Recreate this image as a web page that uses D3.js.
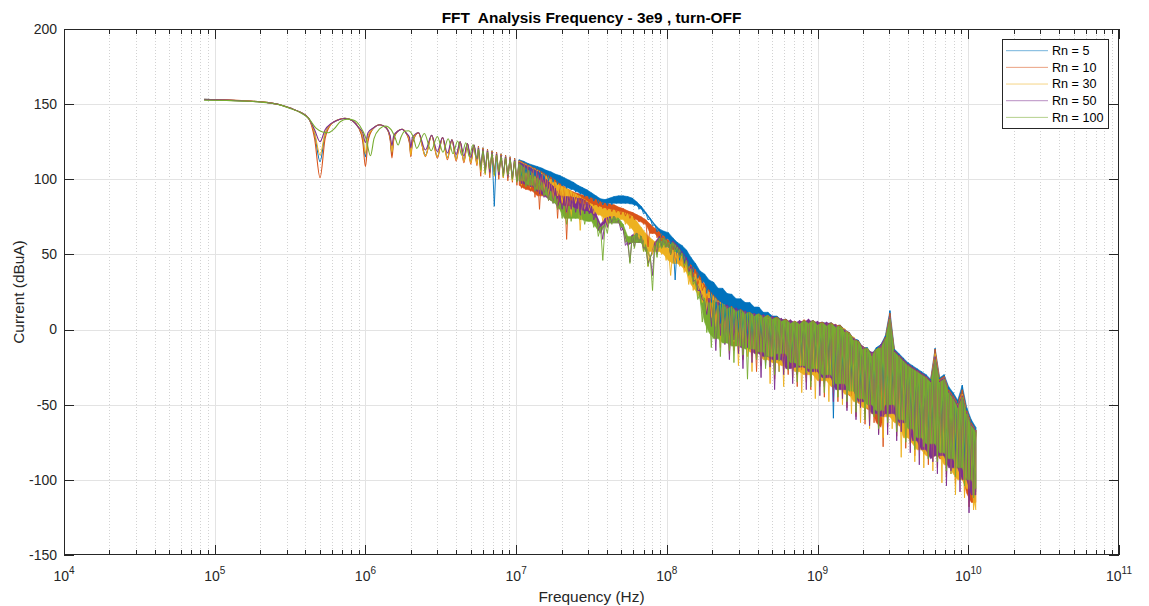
<!DOCTYPE html>
<html><head><meta charset="utf-8">
<script src="https://cdn.jsdelivr.net/npm/d3@7"></script>
<style>body{margin:0;background:#fff}svg{display:block;font-family:"Liberation Sans",Arial,Helvetica,sans-serif}</style>
</head><body><svg id="chart" width="1149" height="606"></svg>
<script>
const chartTitle = "FFT  Analysis Frequency - 3e9 , turn-OFF";
const xLabel = "Frequency (Hz)";
const yLabel = "Current (dBuA)";
const seriesNames = ["Rn = 5","Rn = 10","Rn = 30","Rn = 50","Rn = 100"];
const seriesColors = ["#0072BD","#D95319","#EDB120","#7E2F8E","#77AC30"];
const yTicks = [-150,-100,-50,0,50,100,150,200];
const xTickExps = [4,5,6,7,8,9,10,11];

// Low-frequency part: [frequency Hz, current dBuA]
const rn5Low = [[8.5e4,153.2],[1.2e5,152.8],[1.6e5,152.2],[2.2e5,151.2],[2.7e5,149.6],[3.2e5,147.2],[3.7e5,144.6],[4.2e5,140.5],[4.6e5,130],[5e5,111.7],[5.4e5,130],[5.9e5,136.5],[6.5e5,139.3],[7.3e5,140.6],[8.2e5,139],[9e5,134.5],[9.6e5,127],[1e6,115],[1.04e6,127],[1.12e6,133.5],[1.25e6,136.3],[1.38e6,134],[1.46e6,127],[1.5e6,116.5],[1.54e6,127],[1.64e6,132],[1.75e6,133.3],[1.87e6,130.5],[1.96e6,125],[2e6,117],[2.05e6,125],[2.25e6,131],[2.5e6,116],[2.75e6,129.3],[3e6,115],[3.25e6,127.8],[3.5e6,114.5],[3.75e6,126.3],[4e6,113.5],[4.25e6,125],[4.5e6,112.5],[4.75e6,123.8],[5e6,111.5],[5.25e6,122.7],[5.5e6,110.5]];
const rn10Low = [[8.5e4,153.3],[1.2e5,152.9],[1.6e5,152.3],[2.2e5,151.2],[2.7e5,149.6],[3.2e5,147.2],[3.7e5,144.6],[4.2e5,140.5],[4.6e5,127],[5e5,101],[5.4e5,127],[5.9e5,136.5],[6.5e5,139.3],[7.3e5,140.6],[8.2e5,139],[9e5,134.5],[9.6e5,125],[1e6,108.4],[1.04e6,125],[1.12e6,133.5],[1.25e6,136.3],[1.38e6,134],[1.46e6,126],[1.5e6,114.2],[1.54e6,126],[1.64e6,132],[1.75e6,133.3],[1.87e6,130.5],[1.96e6,124],[2e6,115],[2.05e6,124],[2.25e6,131],[2.5e6,115],[2.75e6,129.3],[3e6,114],[3.25e6,127.8],[3.5e6,113],[3.75e6,126.3],[4e6,112],[4.25e6,125],[4.5e6,111],[4.75e6,123.8],[5e6,110],[5.25e6,122.7],[5.5e6,109]];
const rn30Low = [[8.5e4,153.1],[1.2e5,152.8],[1.6e5,152.2],[2.2e5,151.2],[2.7e5,149.6],[3.2e5,147.2],[3.7e5,144.6],[4.2e5,140.5],[4.6e5,131],[5e5,116.2],[5.4e5,131],[5.9e5,136.5],[6.5e5,139.3],[7.3e5,140.6],[8.2e5,139],[9e5,134.5],[9.6e5,129],[1e6,117.3],[1.04e6,129],[1.12e6,133.5],[1.25e6,136.3],[1.38e6,134],[1.46e6,128],[1.5e6,118],[1.54e6,128],[1.64e6,132],[1.75e6,133.3],[1.87e6,130.5],[1.96e6,126],[2e6,116],[2.05e6,126],[2.25e6,131],[2.5e6,115.5],[2.75e6,129.3],[3e6,115],[3.25e6,127.8],[3.5e6,114],[3.75e6,126.3],[4e6,113],[4.25e6,125],[4.5e6,112],[4.75e6,123.8],[5e6,111],[5.25e6,122.7],[5.5e6,110]];
const rn50Low = [[8.5e4,153],[1.2e5,152.7],[1.6e5,152.1],[2.2e5,151.1],[2.7e5,149.6],[3.2e5,147.2],[3.7e5,144.6],[4.2e5,140.5],[4.6e5,133],[5e5,125],[5.4e5,133],[5.9e5,137],[6.5e5,139.3],[7.3e5,140.4],[8.2e5,139],[9e5,134.5],[9.6e5,131],[1e6,124.5],[1.04e6,131],[1.12e6,134],[1.25e6,136.3],[1.38e6,134],[1.46e6,129],[1.5e6,122.5],[1.54e6,129],[1.64e6,132],[1.75e6,133.3],[1.87e6,130.5],[1.96e6,128],[2e6,121],[2.05e6,128],[2.25e6,131],[2.5e6,119.5],[2.75e6,129.3],[3e6,118.5],[3.25e6,127.8],[3.5e6,117.5],[3.75e6,126.3],[4e6,116.5],[4.25e6,125],[4.5e6,115.5],[4.75e6,123.8],[5e6,114.5],[5.25e6,122.7],[5.5e6,113.5]];
const rn100Low = [[8.5e4,152.7],[1.2e5,152.4],[1.6e5,152],[2.2e5,151],[2.7e5,149.5],[3.2e5,147],[3.7e5,144.4],[4.2e5,140.5],[4.7e5,134],[5.2e5,131.5],[5.7e5,131],[6.2e5,133.5],[6.8e5,138.3],[7.6e5,140],[8.4e5,139.3],[9.2e5,135.5],[1.01e6,127],[1.08e6,115.7],[1.14e6,127],[1.24e6,133.5],[1.36e6,135.5],[1.48e6,133],[1.57e6,128],[1.65e6,122.8],[1.72e6,128],[1.82e6,132],[1.93e6,132.3],[2.08e6,128],[2.19e6,120.6],[2.46e6,130.5],[2.73e6,119],[3e6,128.5],[3.27e6,118],[3.54e6,127],[3.81e6,117],[4.09e6,125.5],[4.36e6,116],[4.63e6,124.3],[4.9e6,115],[5.17e6,123],[5.45e6,114]];

// High-frequency part: sample bins (log10 Hz) with upper / lower excursion of each series (dBuA)
const gridLog10Hz = [6.75,6.78,6.81,6.84,6.87,6.90,6.93,6.96,6.99,7.02,7.05,7.08,7.11,7.14,7.17,7.20,7.23,7.26,7.29,7.32,7.35,7.38,7.41,7.44,7.47,7.50,7.53,7.56,7.59,7.62,7.65,7.68,7.71,7.74,7.77,7.80,7.83,7.86,7.89,7.92,7.95,7.98,8.01,8.04,8.07,8.10,8.13,8.16,8.19,8.22,8.25,8.28,8.31,8.34,8.37,8.40,8.43,8.46,8.49,8.52,8.55,8.58,8.61,8.64,8.67,8.70,8.73,8.76,8.79,8.82,8.85,8.88,8.91,8.94,8.97,9.00,9.03,9.06,9.09,9.12,9.15,9.18,9.21,9.24,9.27,9.30,9.33,9.36,9.39,9.42,9.45,9.48,9.51,9.54,9.57,9.60,9.63,9.66,9.69,9.72,9.75,9.78,9.81,9.84,9.87,9.90,9.93,9.96,9.99,10.02,10.05];

const rn5Hi = [122,121,120,119,118,117,116,115,114,113,
112,110.5,109.5,108.5,107.5,106,105,103.5,102.5,101,
99.5,98,96,94.5,93,91,89,87,86.5,87.5,
88.5,89,89,88.5,87.5,85,82,78,74,70,
67,65.5,64.5,61,58,56,53,48,44,39,
37,33,31.5,27.5,27.5,24,23.5,20.5,20.5,18,
18,15,15,11.5,11.5,9,9,6.5,7,4.5,
5,3.5,5.5,4.5,6,4,5,4,4.5,2.5,
3,0,-2,-6,-7,-12,-12,-16.5,-12,-10,
-4,12.6,-13,-16,-19,-22,-24,-26,-28,-30,
-33,-12.5,-32,-30,-38,-42,-47,-37,-52,-60,-65];
const rn5Lo = [107,106,104,82,103,102,101,100,99,100,
104,103,102,101,100,99,98,96.5,95.5,94,
93,91.5,90,88.5,87,85.5,84,83,82.5,83,
84,84,84,83.5,82.5,80,77,73,69,65,
62,60,57,33,46,44,42,38,34,31,
24,18,10,4,0,-4,-8,-2,-12,-6,
-14,-20,-10,-24,-16,-20,-28,-18,-24,-20,
-30,-22,-26,-34,-24,-30,-38,-28,-59,-36,
-32,-44,-38,-50,-42,-56,-46,-52,-60,-50,
-56,-46,-64,-58,-70,-62,-74,-68,-82,-76,
-72,-86,-80,-90,-96,-86,-100,-92,-104,-114,-108];

const rn10Hi = [122,121,120,119,118,117,116,115,114,112.5,
111,109.5,108,106.5,105,103,101.5,99.5,97,95,
93,91.6,90.5,89.5,88.5,87.6,86.5,85,84,83.5,
83,81.5,80.5,79,78,76.5,75,73,70,67.5,
65,62,59.5,56,51,48,46,43,40,35,
30,26,23,19.5,17,14,15.5,12,13.5,11,
11.5,9,10.5,8,9.5,7,8.5,6,7,4.5,
5.5,4,6.5,4.5,6,4,5,3.5,4.5,2.5,
3,-0.5,-2,-6.5,-7.5,-12,-12.5,-16.5,-13,-11,
-5,11,-14,-17,-20,-23,-25,-27,-29,-31,
-34,-13,-33,-31,-40,-44,-49,-40,-54,-62,-67];
const rn10Lo = [102,104,101,103,100,101,99,98,96,94,
93,92,88,80,89,86,85,74,83,60,
86,85,84,83.5,83,82.5,81.5,80.5,79.5,78.5,
78,76.5,75.5,74,73,71.5,70,55,64,61,
59,55,50,45,43,41,39,35,30,26,
18,10,4,-5,-2,-8,-14,-6,-20,-12,
-18,-28,-14,-22,-19,-33,-24,-18,-30,-25,
-38,-27,-32,-40,-29,-36,-45,-33,-40,-48,
-39,-52,-44,-58,-49,-63,-53,-62,-69,-78,
-65,-53,-71,-64,-79,-70,-84,-76,-83,-90,
-80,-92,-86,-98,-90,-103,-97,-109,-118,-115,-129];

const rn30Hi = [121.5,120.5,119.5,118.5,117.5,116.5,115.5,114.5,113.5,112,
110.5,109,107.5,106,104,102,100,98,96,94.5,
93,91,89.5,87.5,85.5,83.5,82.5,81.5,80.5,80,
79.5,78.5,78,77,75.5,72,68,64,61,58.5,
57.5,56,54,53,51,49,45,41,37,33,
28,25,22,19,17,15.5,13.5,13,11,12,
9.5,10.5,8.5,9.5,7.5,8.5,6,7,4.5,5.5,
3.5,5.5,4.5,6,4,5,3,4.5,2.5,3.5,
1,0.5,-4,-5,-10,-11,-15,-15.5,-15,-10.5,
-6,8,-14.5,-17.5,-20.5,-23.5,-25.5,-27.5,-29.5,-31.5,
-34.5,-16,-34,-32,-41,-45,-50,-43,-55,-63,-67];
const rn30Lo = [105,103,106,102,104,101,102,99,100,96,
98,94,95,90,92,88,85,89,84,78,
75,84,66,80,79,77,76,72,68,74,
74,73,70,67,63,60,52,42,50,52,
50,46,36,44,42,38,30,26,22,18,
12,8,2,-12,-4,-16,-8,-24,-10,-18,
-28,-15,-24,-20,-36,-22,-28,-38,-24,-32,
-28,-42,-35,-30,-46,-38,-34,-48,-42,-38,
-50,-43,-56,-48,-62,-52,-66,-56,-60,-72,
-58,-66,-62,-85,-72,-76,-88,-80,-92,-84,
-94,-84,-102,-90,-96,-110,-100,-112,-106,-120,-128];

const rn50Hi = [121,120,119,118,117,116,115,114,113,111.5,
110,108.5,107,105.5,103.5,100,97,94,89,88.5,
88.5,88,87.5,87,85,82,77,70,74,75,
75,73,67,58,63,64,62,55,48,58,
62,61,58,59,56,52,48,42,33,26,
19,21,17,18.5,15.5,16.5,13,14.5,11.5,12.5,
9.5,11,8,10,7,9,6,7.5,4.5,6.5,
4,6,4.5,7,4,5.5,3,5,2.5,3.5,
0.5,0,-4.5,-5.5,-9.5,-11,-14,-15,-15,-10,
-5.5,8,-14,-17,-20,-23,-25,-27,-29,-31,
-34,-18,-34,-32,-41,-45,-50,-44,-55,-63,-67];
const rn50Lo = [108,106,105,105,103,104,102,101,99,97,
96,95,92,90,88,86,84,80,80,78,
80,78,76,77,77,73,66,60,68,71,
71,66,56,45,55,58,54,44,36,50,
55,55,50,53,49,44,38,32,26,20,
10,2,-14,-4,-10,-20,-7,-16,-26,-12,
-22,-16,-32,-18,-25,-40,-20,-30,-26,-36,
-30,-25,-40,-34,-28,-44,-36,-32,-48,-40,
-46,-54,-40,-60,-52,-48,-64,-56,-70,-58,
-70,-56,-74,-68,-62,-82,-74,-90,-80,-86,
-88,-96,-84,-104,-94,-92,-108,-100,-122,-110,-116];

const rn100Hi = [120,119,118,117,116,115,114,113,112,110.5,
108,106,104,101,98,95,92,89,84,82,
82,81,80,79,78.5,77,74,68,70,74,
75,74,70,62,62,64,62,56,48,56,
61,61,58,58,55,51,46,40,33,24,
21,18,19.5,16,17,14,15,12,13,10.5,
11.5,9,10.5,8,9.5,7,8,5.5,6.5,4,
5.5,3.5,6,4,5.8,3,4.5,2.5,4,1.5,
2.5,-1.5,-2.5,-7,-8,-13,-12.5,-17.5,-13,-12,
-6,7,-15,-18,-21,-24,-26,-28,-30,-32,
-35,-20,-35,-33,-42,-46,-52,-45,-56,-64,-68];
const rn100Lo = [106,104,107,103,105,102,103,100,98,99,
95,96,92,93,89,86,84,80,74,70,
72,74,73,70,72,68,62,46,64,70,
71,68,58,44,54,58,52,42,26,48,
54,55,50,52,48,42,36,30,20,5,
-2,-12,-6,-18,-9,-14,-22,-11,-17,-33,
-13,-20,-15,-26,-18,-30,-21,-16,-27,-22,
-35,-24,-29,-38,-26,-33,-42,-30,-37,-45,
-36,-48,-41,-55,-46,-60,-50,-58,-66,-54,
-62,-50,-68,-60,-75,-66,-80,-72,-78,-86,
-76,-88,-82,-94,-86,-98,-92,-104,-100,-112,-106];

const lowParts = [rn5Low, rn10Low, rn30Low, rn50Low, rn100Low];
const hiParts = [rn5Hi, rn10Hi, rn30Hi, rn50Hi, rn100Hi];
const loParts = [rn5Lo, rn10Lo, rn30Lo, rn50Lo, rn100Lo];
const bandStart = 9; // bins from here on are too dense to resolve: drawn as a filled body plus spikes

const M = {l:64, r:1119, t:29, b:555};
const axisColor = "#262626";
const svg = d3.select("#chart");
const x = d3.scaleLog().domain([1e4,1e11]).range([M.l,M.r]);
const y = d3.scaleLinear().domain([-150,200]).range([M.b,M.t]);

svg.append("rect").attr("x",M.l).attr("y",M.t).attr("width",M.r-M.l).attr("height",M.b-M.t).attr("fill","#fff");

const minorX = [];
xTickExps.slice(0,-1).forEach(e=>{for(let j=2;j<=9;j++) minorX.push(j*Math.pow(10,e));});
const majorX = xTickExps.map(e=>Math.pow(10,e));

const grid = svg.append("g");
grid.selectAll(".mg").data(minorX).join("line")
  .attr("x1",d=>Math.round(x(d))+0.5).attr("x2",d=>Math.round(x(d))+0.5).attr("y1",M.t).attr("y2",M.b)
  .attr("stroke","#d2d2d2").attr("stroke-width",1).attr("stroke-dasharray","1,2");
grid.selectAll(".Mg").data(majorX.slice(1,-1)).join("line")
  .attr("x1",d=>Math.round(x(d))+0.5).attr("x2",d=>Math.round(x(d))+0.5).attr("y1",M.t).attr("y2",M.b)
  .attr("stroke","#e3e3e3").attr("stroke-width",1);
grid.selectAll(".yg").data(yTicks.slice(1,-1)).join("line")
  .attr("x1",M.l).attr("x2",M.r).attr("y1",d=>Math.round(y(d))+0.5).attr("y2",d=>Math.round(y(d))+0.5)
  .attr("stroke","#e3e3e3").attr("stroke-width",1);

svg.append("clipPath").attr("id","clip").append("rect").attr("x",M.l).attr("y",M.t).attr("width",M.r-M.l).attr("height",M.b-M.t);
const plot = svg.append("g").attr("clip-path","url(#clip)");
const areaLayer = plot.append("g");
const lineLayer = plot.append("g");
const lineSmooth = d3.line().x(d=>x(d[0])).y(d=>y(d[1])).curve(d3.curveMonotoneX);
const lineRaw = d3.line().x(d=>x(d[0])).y(d=>y(d[1]));
const band = d3.area().x(d=>x(d.f)).y0(d=>y(d.core)).y1(d=>y(d.hi));

seriesNames.forEach((name,k)=>{
  const hi = hiParts[k], lo = loParts[k], c = seriesColors[k];
  const start = [Math.pow(10,gridLog10Hz[0]), hi[0]];
  lineLayer.append("path").attr("d", lineSmooth(lowParts[k].concat([start])))
    .attr("fill","none").attr("stroke",c).attr("stroke-width",1.1);
  // every bin: peak then trough (spike trace)
  const pts = [];
  gridLog10Hz.forEach((lf,i)=>{
    pts.push([Math.pow(10,lf), hi[i]]);
    if(i<gridLog10Hz.length-1) pts.push([Math.pow(10,lf+0.015), lo[i]]);
  });
  lineLayer.append("path").attr("d", lineRaw(pts))
    .attr("fill","none").attr("stroke",c).attr("stroke-width",0.9).attr("stroke-linejoin","round");
  // dense body: from the upper excursion down to the shallowest neighbouring trough
  const bd = [];
  for(let i=bandStart;i<gridLog10Hz.length;i++){
    const core = Math.max(lo[i], lo[i-1], i+1<lo.length ? lo[i+1] : lo[i]);
    bd.push({f:Math.pow(10,gridLog10Hz[i]), hi:hi[i], core:Math.min(core, hi[i])});
  }
  areaLayer.append("path").attr("d", band(bd))
    .attr("fill",c).attr("stroke",c).attr("stroke-width",0.6).attr("stroke-linejoin","round");
});

svg.append("rect").attr("x",M.l+0.5).attr("y",M.t+0.5).attr("width",M.r-M.l-1).attr("height",M.b-M.t-1)
  .attr("fill","none").attr("stroke",axisColor).attr("stroke-width",1);

const tk = svg.append("g").attr("stroke",axisColor).attr("stroke-width",1);
minorX.forEach(v=>{
  const px = Math.round(x(v))+0.5;
  tk.append("line").attr("x1",px).attr("x2",px).attr("y1",M.b).attr("y2",M.b-5);
  tk.append("line").attr("x1",px).attr("x2",px).attr("y1",M.t).attr("y2",M.t+5);
});
majorX.forEach(v=>{
  const px = Math.round(x(v))+0.5;
  tk.append("line").attr("x1",px).attr("x2",px).attr("y1",M.b).attr("y2",M.b-10);
  tk.append("line").attr("x1",px).attr("x2",px).attr("y1",M.t).attr("y2",M.t+10);
});
yTicks.forEach(v=>{
  const py = Math.round(y(v))+0.5;
  tk.append("line").attr("x1",M.l).attr("x2",M.l+10).attr("y1",py).attr("y2",py);
  tk.append("line").attr("x1",M.r).attr("x2",M.r-10).attr("y1",py).attr("y2",py);
});

svg.append("g").selectAll("text").data(yTicks).join("text")
  .attr("x",M.l-7).attr("y",d=>y(d)).attr("dy","0.35em").attr("text-anchor","end")
  .attr("font-size",14).attr("fill",axisColor).text(d=>d);
const xl = svg.append("g").selectAll("text").data(xTickExps).join("text")
  .attr("x",d=>x(Math.pow(10,d))).attr("y",581).attr("text-anchor","middle")
  .attr("font-size",14).attr("fill",axisColor);
xl.append("tspan").text("10");
xl.append("tspan").attr("dy",-7).attr("font-size",10).text(d=>d);

svg.append("text").attr("x",(M.l+M.r)/2).attr("y",23).attr("text-anchor","middle")
  .attr("font-size",15.4).attr("font-weight","bold").attr("fill","#000")
  .style("white-space","pre").text(chartTitle);
svg.append("text").attr("x",(M.l+M.r)/2).attr("y",602).attr("text-anchor","middle")
  .attr("font-size",15.4).attr("fill",axisColor).text(xLabel);
svg.append("text").attr("transform",`translate(24,${(M.t+M.b)/2}) rotate(-90)`).attr("text-anchor","middle")
  .attr("font-size",15.4).attr("fill",axisColor).text(yLabel);

const lg = svg.append("g");
lg.append("rect").attr("x",1002.5).attr("y",39.5).attr("width",106).attr("height",89)
  .attr("fill","#fff").attr("stroke",axisColor).attr("stroke-width",1);
seriesNames.forEach((name,k)=>{
  const ly = 50.7 + k*16.67;
  lg.append("line").attr("x1",1006).attr("x2",1048).attr("y1",ly).attr("y2",ly)
    .attr("stroke",seriesColors[k]).attr("stroke-width",1).attr("stroke-opacity",0.55);
  lg.append("text").attr("x",1052).attr("y",ly).attr("dy","0.35em")
    .attr("font-size",12.6).attr("fill","#000").text(name);
});
</script>
</body></html>
